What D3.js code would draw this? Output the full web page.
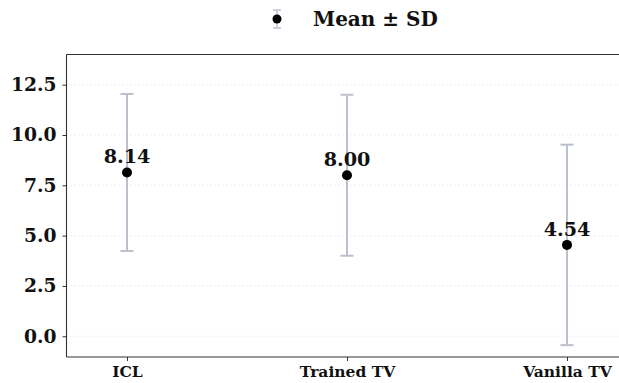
<!DOCTYPE html>
<html><head><meta charset="utf-8">
<script src="https://cdn.jsdelivr.net/npm/d3@7"></script>
<style>body{margin:0;background:#fff}svg{display:block}</style>
</head><body>
<svg id="c" width="619" height="383"></svg>
<script>
const categories = ["ICL", "Trained TV", "Vanilla TV"];
const means = [8.14, 8.00, 4.54];
const sds = [3.90, 4.00, 4.98];
const meanLabels = ["8.14", "8.00", "4.54"];
const yTicks = [0.0, 2.5, 5.0, 7.5, 10.0, 12.5];
const legendLabel = "Mean ± SD";

const W = 619, H = 383;
const m = {left: 66.5, right: -8, top: 54.5, bottom: 26};
const svg = d3.select("#c");
const font = "'DejaVu Serif', serif";

const x = d3.scalePoint().domain(categories).range([127, 567]);
const y = d3.scaleLinear().domain([-1.03, 14.0]).range([H - m.bottom, m.top]);

// grid
svg.append("g").selectAll("line").data(yTicks).join("line")
  .attr("x1", m.left).attr("x2", W)
  .attr("y1", d => y(d)).attr("y2", d => y(d))
  .attr("stroke", "#e4e4e4").attr("stroke-width", 0.8).attr("stroke-dasharray", "1.5,2.5");

// spines
const sp = svg.append("g").attr("stroke", "#333").attr("stroke-width", 1.1);
sp.append("line").attr("x1", m.left).attr("x2", m.left).attr("y1", m.top).attr("y2", H - m.bottom);
sp.append("line").attr("x1", m.left).attr("x2", W).attr("y1", m.top).attr("y2", m.top);
sp.append("line").attr("x1", m.left).attr("x2", W).attr("y1", H - m.bottom).attr("y2", H - m.bottom);

// y axis
const ya = svg.append("g").attr("transform", `translate(${m.left},0)`)
  .call(d3.axisLeft(y).tickValues(yTicks).tickFormat(d3.format(".1f")).tickSize(4).tickPadding(6));
ya.select(".domain").remove();
ya.selectAll("line").attr("stroke", "#333");
ya.selectAll("text").attr("font-family", font).attr("font-weight", "bold").attr("font-size", 18.7).attr("fill", "#111");

// x axis
const xa = svg.append("g").attr("transform", `translate(0,${H - m.bottom})`)
  .call(d3.axisBottom(x).tickSize(4).tickPadding(5));
xa.select(".domain").remove();
xa.selectAll("line").attr("stroke", "#333");
xa.selectAll("text").attr("font-family", font).attr("font-weight", "bold").attr("font-size", 15.5).attr("fill", "#111");

const data = categories.map((c, i) => ({c, m: means[i], s: sds[i], l: meanLabels[i]}));
const eb = "#bcbfcc";
const g = svg.append("g");
g.selectAll(".bar").data(data).join("line")
  .attr("x1", d => x(d.c)).attr("x2", d => x(d.c))
  .attr("y1", d => y(d.m - d.s)).attr("y2", d => y(d.m + d.s))
  .attr("stroke", eb).attr("stroke-width", 2);
[1, -1].forEach(sg => {
  g.selectAll(".cap" + sg).data(data).join("line")
    .attr("x1", d => x(d.c) - 6.5).attr("x2", d => x(d.c) + 6.5)
    .attr("y1", d => y(d.m + sg * d.s)).attr("y2", d => y(d.m + sg * d.s))
    .attr("stroke", eb).attr("stroke-width", 2);
});
g.selectAll("circle").data(data).join("circle")
  .attr("cx", d => x(d.c)).attr("cy", d => y(d.m)).attr("r", 5).attr("fill", "#000");
g.selectAll(".lab").data(data).join("text")
  .attr("x", d => x(d.c)).attr("y", d => y(d.m) - 9)
  .attr("text-anchor", "middle").attr("font-family", font).attr("font-weight", "bold")
  .attr("font-size", 19.2).attr("fill", "#111").text(d => d.l);

// legend
const lg = svg.append("g");
const lx = 277, ly = 19;
lg.append("line").attr("x1", lx).attr("x2", lx).attr("y1", ly - 9).attr("y2", ly + 9).attr("stroke", eb).attr("stroke-width", 1.5);
lg.append("line").attr("x1", lx - 4).attr("x2", lx + 4).attr("y1", ly - 9).attr("y2", ly - 9).attr("stroke", eb).attr("stroke-width", 1.5);
lg.append("line").attr("x1", lx - 4).attr("x2", lx + 4).attr("y1", ly + 9).attr("y2", ly + 9).attr("stroke", eb).attr("stroke-width", 1.5);
lg.append("circle").attr("cx", lx).attr("cy", ly).attr("r", 4.5).attr("fill", "#000");
lg.append("text").attr("x", 313).attr("y", ly + 6.5).attr("font-family", font).attr("font-weight", "bold")
  .attr("font-size", 20).attr("fill", "#111").text(legendLabel);
</script>
</body></html>
